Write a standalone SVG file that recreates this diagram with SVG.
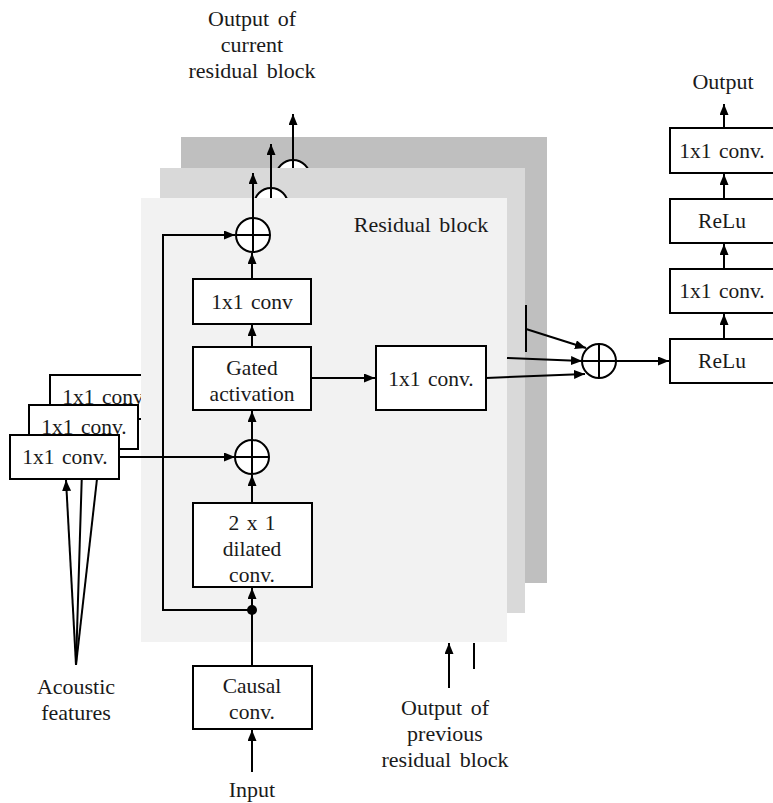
<svg xmlns="http://www.w3.org/2000/svg" width="773" height="803" viewBox="0 0 773 803" font-family="'Liberation Serif', 'Times New Roman', serif">
  <style>
    .box { fill: #ffffff; stroke: #000000; stroke-width: 2; }
    .sum { fill: #ffffff; stroke: #000000; stroke-width: 2; }
    .ln { fill: none; stroke: #000000; stroke-width: 2; }
    .arr { fill: none; stroke: #000000; stroke-width: 2; marker-end: url(#head); }
    .t { font-family: 'Liberation Serif', 'Times New Roman', serif; font-size: 21.5px; fill: #1a1a1a; text-anchor: middle; word-spacing: 2px; }
    .lbl { font-size: 22px; word-spacing: 3px; }
  </style>
  <defs>
    <marker id="head" markerUnits="userSpaceOnUse" markerWidth="12" markerHeight="10" refX="11" refY="4.5" orient="auto">
      <path d="M0,0 L11,4.5 L0,9 Z" fill="#000000"/>
    </marker>
  </defs>

  <rect width="773" height="803" fill="#ffffff"/>

  <!-- conditioning 1x1 conv stack (back copies first) -->
  <g id="cond-conv-back">
    <rect class="box" x="50" y="375" width="110" height="44"/>
    <text class="t" x="105" y="404">1x1 conv.</text>
  </g>
  <g id="cond-conv-mid">
    <rect class="box" x="29" y="405" width="109" height="44"/>
    <text class="t" x="84" y="434">1x1 conv.</text>
  </g>

  <!-- feature lines fanning into the conditioning stack -->
  <g id="feature-lines">
    <line class="ln" x1="76" y1="665" x2="82" y2="470"/>
    <line class="ln" x1="76" y1="665" x2="98" y2="470"/>
  </g>

  <g id="cond-conv-front">
    <rect class="box" x="10" y="435" width="109" height="44"/>
    <text class="t" x="65" y="464">1x1 conv.</text>
  </g>

  <!-- stacked residual layers, back to front -->
  <g id="layer-back">
    <rect x="181" y="137" width="366" height="446" fill="#bfbfbf"/>
    <line class="arr" x1="293" y1="160" x2="293" y2="114"/>
    <circle class="sum" cx="293" cy="177" r="17"/>
    <line class="ln" x1="293" y1="160" x2="293" y2="194"/>
    <line class="ln" x1="526" y1="305" x2="526" y2="352"/>
  </g>
  <g id="layer-mid">
    <rect x="160" y="168" width="365" height="445" fill="#d9d9d9"/>
    <line class="arr" x1="271" y1="188" x2="271" y2="144"/>
    <circle class="sum" cx="271" cy="205" r="17"/>
    <line class="ln" x1="271" y1="188" x2="271" y2="222"/>
  </g>
  <g id="layer-front">
    <rect x="141" y="198" width="366" height="444" fill="#f2f2f2"/>
    <text class="t lbl" x="421" y="232">Residual block</text>
  </g>

  <!-- connectors -->
  <g id="connectors">
    <!-- skip path from the input split -->
    <polyline class="arr" points="252,610 163,610 163,235 235,235"/>
    <line class="arr" x1="253" y1="218" x2="253" y2="173"/>
    <line class="arr" x1="252" y1="279" x2="252" y2="253"/>
    <line class="arr" x1="252" y1="347" x2="252" y2="325"/>
    <line class="arr" x1="252" y1="440" x2="252" y2="411"/>
    <line class="arr" x1="252" y1="503" x2="252" y2="475"/>
    <line class="arr" x1="252" y1="666" x2="252" y2="588"/>
    <line class="arr" x1="252" y1="772" x2="252" y2="730"/>
    <!-- conditioning input -->
    <line class="arr" x1="119" y1="457" x2="235" y2="457"/>
    <line class="arr" x1="76" y1="665" x2="66" y2="480"/>
    <!-- gated activation to skip conv -->
    <line class="arr" x1="311" y1="378" x2="375" y2="378"/>
    <!-- skip outputs into the summation -->
    <line class="arr" x1="486" y1="378" x2="585" y2="374"/>
    <line class="arr" x1="507" y1="358" x2="582" y2="361"/>
    <line class="arr" x1="526" y1="329" x2="586" y2="348"/>
    <line class="arr" x1="616" y1="361" x2="669" y2="361"/>
    <!-- output head -->
    <line class="arr" x1="724" y1="339" x2="724" y2="314"/>
    <line class="arr" x1="724" y1="269" x2="724" y2="244"/>
    <line class="arr" x1="724" y1="199" x2="724" y2="174"/>
    <line class="arr" x1="724" y1="128" x2="724" y2="104"/>
    <!-- residual input from previous block -->
    <line class="arr" x1="449" y1="688" x2="449" y2="643"/>
    <line class="ln" x1="474" y1="643" x2="474" y2="669"/>
    <!-- split point -->
    <circle cx="252" cy="610" r="5" fill="#000000"/>
  </g>

  <g id="sum-residual">
    <circle class="sum" cx="253" cy="235" r="17"/>
    <line class="ln" x1="236" y1="235" x2="270" y2="235"/>
    <line class="ln" x1="253" y1="218" x2="253" y2="252"/>
  </g>
  <g id="sum-cond">
    <circle class="sum" cx="252" cy="457" r="17"/>
    <line class="ln" x1="235" y1="457" x2="269" y2="457"/>
    <line class="ln" x1="252" y1="440" x2="252" y2="474"/>
  </g>
  <g id="sum-skip">
    <circle class="sum" cx="599" cy="361" r="17"/>
    <line class="ln" x1="582" y1="361" x2="616" y2="361"/>
    <line class="ln" x1="599" y1="344" x2="599" y2="378"/>
  </g>

  <g id="res-conv">
    <rect class="box" x="193" y="279" width="118" height="45"/>
    <text class="t" x="252" y="309">1x1 conv</text>
  </g>
  <g id="gated">
    <rect class="box" x="193" y="347" width="118" height="63"/>
    <text class="t" x="252" y="375">Gated</text>
    <text class="t" x="252" y="401">activation</text>
  </g>
  <g id="skip-conv">
    <rect class="box" x="376" y="346" width="110" height="64"/>
    <text class="t" x="431" y="386">1x1 conv.</text>
  </g>
  <g id="dilated">
    <rect class="box" x="193" y="503" width="119" height="84"/>
    <text class="t" x="252" y="530">2 x 1</text>
    <text class="t" x="252" y="556">dilated</text>
    <text class="t" x="252" y="582">conv.</text>
  </g>
  <g id="causal">
    <rect class="box" x="193" y="666" width="119" height="63"/>
    <text class="t" x="252" y="693">Causal</text>
    <text class="t" x="252" y="719">conv.</text>
  </g>

  <g id="head-relu-1">
    <rect class="box" x="670" y="339" width="105" height="44"/>
    <text class="t" x="722" y="368">ReLu</text>
  </g>
  <g id="head-conv-1">
    <rect class="box" x="670" y="269" width="105" height="44"/>
    <text class="t" x="722" y="298">1x1 conv.</text>
  </g>
  <g id="head-relu-2">
    <rect class="box" x="670" y="199" width="105" height="44"/>
    <text class="t" x="722" y="228">ReLu</text>
  </g>
  <g id="head-conv-2">
    <rect class="box" x="670" y="128" width="105" height="45"/>
    <text class="t" x="722" y="158">1x1 conv.</text>
  </g>

  <g id="labels">
    <text class="t lbl" x="252" y="26">Output of</text>
    <text class="t lbl" x="252" y="52">current</text>
    <text class="t lbl" x="252" y="78">residual block</text>
    <text class="t lbl" x="723" y="89">Output</text>
    <text class="t lbl" x="76" y="694">Acoustic</text>
    <text class="t lbl" x="76" y="720">features</text>
    <text class="t lbl" x="252" y="797">Input</text>
    <text class="t lbl" x="445" y="715">Output of</text>
    <text class="t lbl" x="445" y="741">previous</text>
    <text class="t lbl" x="445" y="767">residual block</text>
  </g>
</svg>
